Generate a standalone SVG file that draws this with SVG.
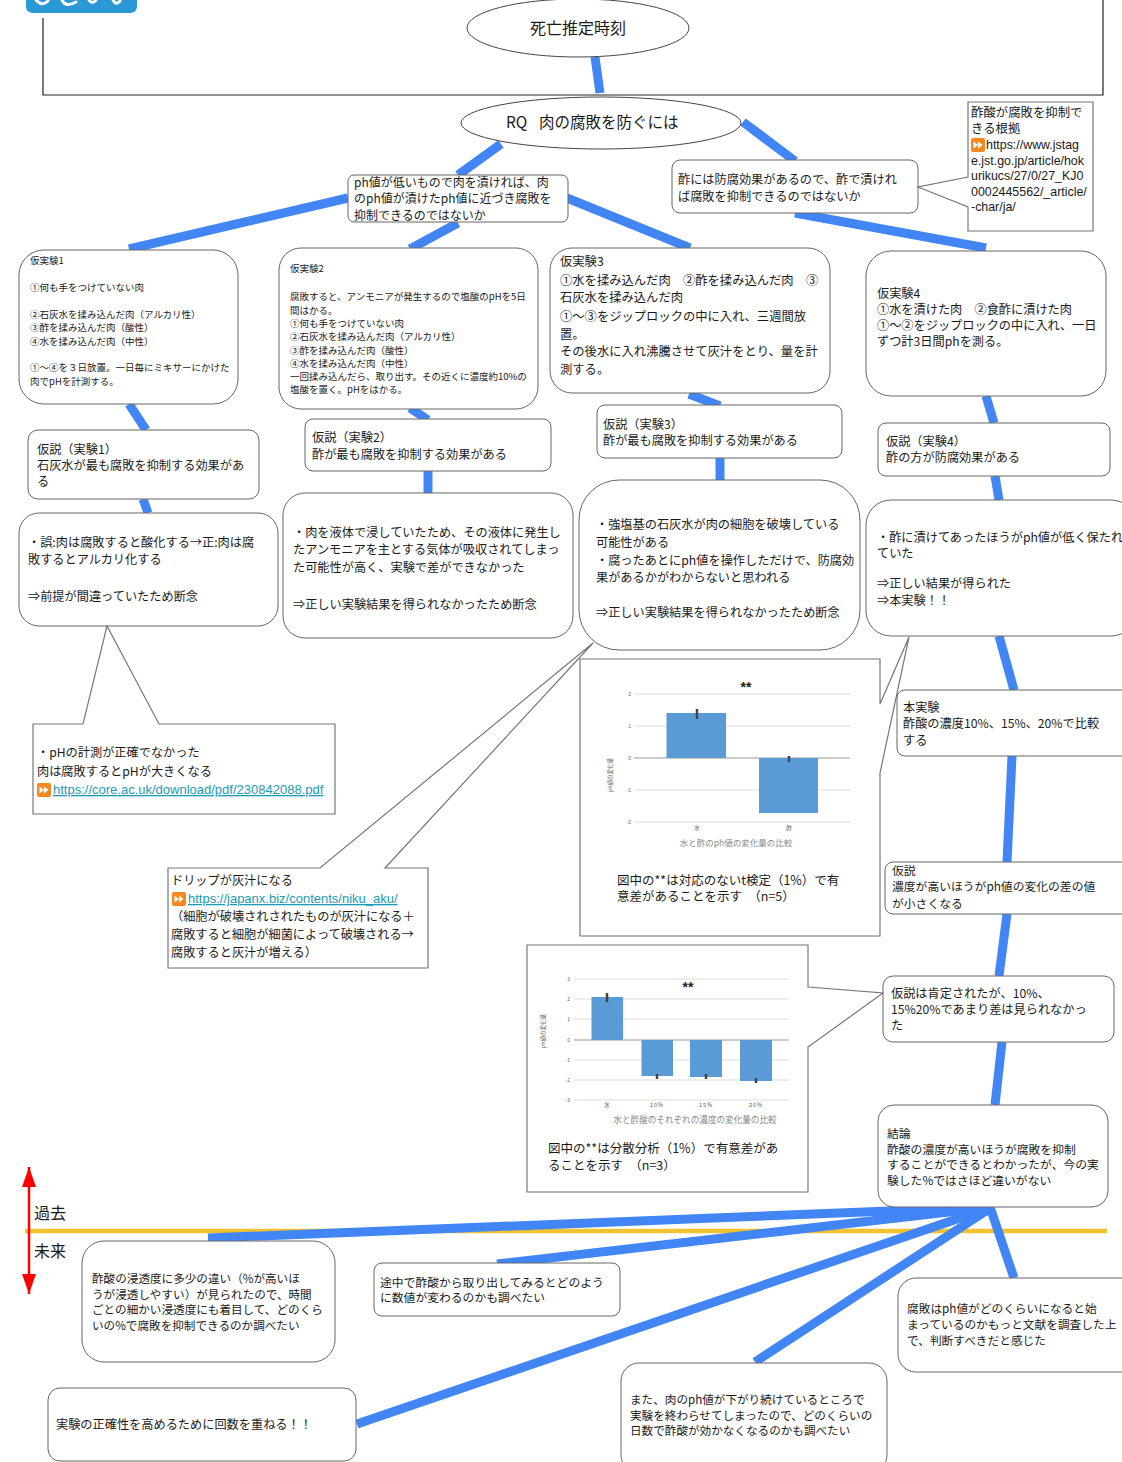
<svg xmlns="http://www.w3.org/2000/svg" width="1122" height="1462" viewBox="0 0 1122 1462">
<defs>
<style>
.j{font-family:"Noto Sans CJK JP","Noto Sans",sans-serif;fill:#1a1a1a;font-size:12.2px}
.sm{font-size:9.5px}
.box{fill:#fff;stroke:#666;stroke-width:1}
.call{fill:#fff;stroke:#777;stroke-width:1.2}
.c{stroke:#4285f4;stroke-width:9;fill:none}
.link{font-family:"Liberation Sans",Arial,sans-serif;font-size:13px;fill:#1b9bb4;text-decoration:underline}
.lat{font-family:"Liberation Sans",Arial,sans-serif;font-size:12.4px;fill:#1a1a1a}
.grid{stroke:#dcdcdc;stroke-width:1}
.axis{stroke:#9a9a9a;stroke-width:1}
.bar{fill:#5b9bd5}
.err{stroke:#444;stroke-width:2.5}
.tick{font-family:"Liberation Sans",Arial,sans-serif;font-size:5px;fill:#666}
.ctl{font-size:8.5px;fill:#8a8a8a}
.cat{font-size:5.5px;fill:#555}
.star{font-family:"Liberation Sans",Arial,sans-serif;font-size:14px;font-weight:bold;fill:#222}
</style>
<marker id="ra" viewBox="0 0 20 14" refX="20" refY="7" markerWidth="20" markerHeight="14" markerUnits="userSpaceOnUse" orient="auto-start-reverse">
<path d="M0,0 L20,7 L0,14 Z" fill="#ff0000"/>
</marker>
<symbol id="ff" viewBox="0 0 14 14"><rect width="14" height="14" rx="2" fill="#f5891f"/><path d="M2.5,3.5 L7,7 L2.5,10.5Z M7,3.5 L11.5,7 L7,10.5Z" fill="#fff"/></symbol>
</defs>
<rect width="1122" height="1462" fill="#fff"/>

<g id="corner-badge">
<path d="M26,-10 H137 V6 Q137,13 130,13 H33 Q26,13 26,6 Z" fill="#2b98d6"/>
<path d="M36,0 Q42,7 48,1 M62,0 Q66,8 76,2 M89,0 Q92,5 96,0 M113,0 Q116,6 120,1" stroke="#fff" stroke-width="3" fill="none" stroke-linecap="round"/>
</g>
<path id="frame" d="M43,18 V95 H1103 V0" fill="none" stroke="#222" stroke-width="1.2"/>

<g id="timeline">
<line x1="25" y1="1231" x2="1107" y2="1231" stroke="#f1c232" stroke-width="4.5"/>
<line x1="29" y1="1167" x2="29" y2="1294" stroke="#ff0000" stroke-width="2.5" marker-start="url(#ra)" marker-end="url(#ra)"/>
<text class="j" x="34" y="1219" style="font-size:16px">過去</text>
<text class="j" x="34" y="1257" style="font-size:16px">未来</text>
</g>

<g id="connectors">
<line class="c" x1="595" y1="57" x2="600" y2="93"/>
<line class="c" x1="501" y1="144" x2="458" y2="175"/>
<line class="c" x1="743" y1="122" x2="795" y2="161"/>
<line class="c" x1="348" y1="198" x2="129" y2="249"/>
<line class="c" x1="458" y1="223" x2="410" y2="249"/>
<line class="c" x1="567" y1="198" x2="690" y2="248"/>
<line class="c" x1="795" y1="213" x2="986" y2="248"/>
<line class="c" x1="129" y1="404" x2="146" y2="430"/>
<line class="c" x1="410" y1="408" x2="428" y2="420"/>
<line class="c" x1="689" y1="394" x2="720" y2="406"/>
<line class="c" x1="986" y1="396" x2="994" y2="423"/>
<line class="c" x1="143" y1="499" x2="148" y2="513"/>
<line class="c" x1="428" y1="471" x2="428" y2="493"/>
<line class="c" x1="720" y1="458" x2="720" y2="480"/>
<line class="c" x1="995" y1="476" x2="999" y2="500"/>
<line class="c" x1="999" y1="636" x2="1014" y2="690"/>
<line class="c" x1="1012" y1="756" x2="1007" y2="862"/>
<line class="c" x1="1007" y1="914" x2="999" y2="976"/>
<line class="c" x1="1002" y1="1042" x2="995" y2="1105"/>
<line class="c" x1="992" y1="1207" x2="208" y2="1238"/>
<line class="c" x1="992" y1="1207" x2="497" y2="1264"/>
<line class="c" x1="992" y1="1207" x2="357" y2="1424"/>
<line class="c" x1="992" y1="1207" x2="755" y2="1362"/>
<line class="c" x1="990" y1="1207" x2="1014" y2="1278"/>
</g>

<g id="n-death">
<ellipse cx="578" cy="28" rx="111" ry="29" fill="#fff" stroke="#444" stroke-width="1"/>
<text class="j" x="578" y="33.5" text-anchor="middle" style="font-size:16px">死亡推定時刻</text>
</g>
<g id="n-rq">
<ellipse cx="601" cy="123" rx="140" ry="26" fill="#fff" stroke="#444" stroke-width="1"/>
<text class="j" x="506" y="128" style="font-size:15.5px">RQ<tspan x="539">肉の腐敗を防ぐには</tspan></text>
</g>

<g id="n-hyp-ph">
<rect class="box" x="348" y="175" width="220" height="47" rx="6"/>
<text class="j" x="354" y="186.5" style="font-size:12px">ph値が低いもので肉を漬ければ、肉</text>
<text class="j" x="354" y="203" style="font-size:12px">のph値が漬けたph値に近づき腐敗を</text>
<text class="j" x="354" y="219.5" style="font-size:12px">抑制できるのではないか</text>
</g>
<g id="n-hyp-vinegar">
<rect class="box" x="672" y="160" width="246" height="53" rx="8"/>
<text class="j" x="678" y="184">酢には防腐効果があるので、酢で漬けれ</text>
<text class="j" x="678" y="200.5">ば腐敗を抑制できるのではないか</text>
</g>
<g id="n-ref-jstage">
<path class="call" d="M968,102 H1093 V231 H968 V207 L918,187 L968,177 Z"/>
<text class="j" x="971" y="117" style="font-size:12.4px">酢酸が腐敗を抑制で</text>
<text class="j" x="971" y="133" style="font-size:12.4px">きる根拠</text>
<use href="#ff" x="971" y="138" width="14" height="14"/>
<text class="lat" x="986" y="149">https://www.jstag</text>
<text class="lat" x="971" y="164.5">e.jst.go.jp/article/hok</text>
<text class="lat" x="971" y="180">urikucs/27/0/27_KJ0</text>
<text class="lat" x="971" y="195.5">0002445562/_article/</text>
<text class="lat" x="971" y="211">-char/ja/</text>
</g>

<g id="n-exp1">
<rect class="box" x="19" y="250" width="219" height="154" rx="25"/>
<text class="j sm" x="30" y="263.5">仮実験1</text>
<text class="j sm" x="30" y="290.5">①何も手をつけていない肉</text>
<text class="j sm" x="30" y="317.5">②石灰水を揉み込んだ肉（アルカリ性）</text>
<text class="j sm" x="30" y="331">③酢を揉み込んだ肉（酸性）</text>
<text class="j sm" x="30" y="344.5">④水を揉み込んだ肉（中性）</text>
<text class="j sm" x="30" y="371">①～④を３日放置。一日毎にミキサーにかけた</text>
<text class="j sm" x="30" y="384.5">肉でpHを計測する。</text>
</g>
<g id="n-exp2">
<rect class="box" x="279" y="248" width="259" height="161" rx="22"/>
<text class="j sm" x="290" y="271.5">仮実験2</text>
<text class="j sm" x="290" y="300.3">腐敗すると、アンモニアが発生するので塩酸のpHを5日</text>
<text class="j sm" x="290" y="313.6">間はかる。</text>
<text class="j sm" x="290" y="326.9">①何も手をつけていない肉</text>
<text class="j sm" x="290" y="340.2">②石灰水を揉み込んだ肉（アルカリ性）</text>
<text class="j sm" x="290" y="353.5">③酢を揉み込んだ肉（酸性）</text>
<text class="j sm" x="290" y="366.8">④水を揉み込んだ肉（中性）</text>
<text class="j sm" x="290" y="380.1">一回揉み込んだら、取り出す。その近くに濃度約10%の</text>
<text class="j sm" x="290" y="393.4">塩酸を置く。pHをはかる。</text>
</g>
<g id="n-exp3">
<rect class="box" x="550" y="248" width="280" height="145" rx="22"/>
<text class="j" x="560" y="265.5" style="font-size:12.3px">仮実験3</text>
<text class="j" x="560" y="285" style="font-size:12.3px">①水を揉み込んだ肉　②酢を揉み込んだ肉　③</text>
<text class="j" x="560" y="302" style="font-size:12.3px">石灰水を揉み込んだ肉</text>
<text class="j" x="560" y="321" style="font-size:12.3px">①～③をジップロックの中に入れ、三週間放</text>
<text class="j" x="560" y="339" style="font-size:12.3px">置。</text>
<text class="j" x="560" y="356" style="font-size:12.3px">その後水に入れ沸騰させて灰汁をとり、量を計</text>
<text class="j" x="560" y="374" style="font-size:12.3px">測する。</text>
</g>
<g id="n-exp4">
<rect class="box" x="866" y="251" width="240" height="145" rx="25"/>
<text class="j" x="877" y="298">仮実験4</text>
<text class="j" x="877" y="314">①水を漬けた肉　②食酢に漬けた肉</text>
<text class="j" x="877" y="330">①～②をジップロックの中に入れ、一日</text>
<text class="j" x="877" y="346">ずつ計3日間phを測る。</text>
</g>

<g id="n-hyp1">
<rect class="box" x="28" y="430" width="231" height="69" rx="10"/>
<text class="j" x="37" y="454">仮説（実験1）</text>
<text class="j" x="37" y="470">石灰水が最も腐敗を抑制する効果があ</text>
<text class="j" x="37" y="486">る</text>
</g>
<g id="n-hyp2">
<rect class="box" x="305" y="419" width="246" height="52" rx="8"/>
<text class="j" x="312" y="442">仮説（実験2）</text>
<text class="j" x="312" y="458.5">酢が最も腐敗を抑制する効果がある</text>
</g>
<g id="n-hyp3">
<rect class="box" x="597" y="405" width="245" height="53" rx="8"/>
<text class="j" x="603" y="428.5">仮説（実験3）</text>
<text class="j" x="603" y="445">酢が最も腐敗を抑制する効果がある</text>
</g>
<g id="n-hyp4">
<rect class="box" x="878" y="423" width="232" height="53" rx="8"/>
<text class="j" x="886" y="445.5">仮説（実験4）</text>
<text class="j" x="886" y="462">酢の方が防腐効果がある</text>
</g>

<g id="n-res1">
<rect class="box" x="19" y="513" width="259" height="113" rx="20"/>
<text class="j" x="28" y="547">・誤:肉は腐敗すると酸化する→正:肉は腐</text>
<text class="j" x="28" y="564">敗するとアルカリ化する</text>
<text class="j" x="28" y="600.5">⇒前提が間違っていたため断念</text>
</g>
<g id="n-res2">
<rect class="box" x="283" y="493" width="290" height="145" rx="22"/>
<text class="j" x="293" y="537">・肉を液体で浸していたため、その液体に発生し</text>
<text class="j" x="293" y="554">たアンモニアを主とする気体が吸収されてしまっ</text>
<text class="j" x="293" y="571.5">た可能性が高く、実験で差ができなかった</text>
<text class="j" x="293" y="608.5">⇒正しい実験結果を得られなかったため断念</text>
</g>
<g id="n-res3">
<rect class="box" x="579" y="480" width="281" height="170" rx="40"/>
<text class="j" x="596" y="529">・強塩基の石灰水が肉の細胞を破壊している</text>
<text class="j" x="596" y="547">可能性がある</text>
<text class="j" x="596" y="565">・腐ったあとにph値を操作しただけで、防腐効</text>
<text class="j" x="596" y="582">果があるかがわからないと思われる</text>
<text class="j" x="596" y="617">⇒正しい実験結果を得られなかったため断念</text>
</g>
<g id="n-res4">
<rect class="box" x="866" y="500" width="270" height="136" rx="25"/>
<text class="j" x="877" y="541.5">・酢に漬けてあったほうがph値が低く保たれ</text>
<text class="j" x="877" y="558">ていた</text>
<text class="j" x="877" y="588">⇒正しい結果が得られた</text>
<text class="j" x="877" y="604.5">⇒本実験！！</text>
</g>

<g id="n-note-ph">
<path class="call" d="M33,724 H83 L107,626 L159,724 H335 V814 H33 Z"/>
<text class="j" x="37" y="757">・pHの計測が正確でなかった</text>
<text class="j" x="37" y="775.5">肉は腐敗するとpHが大きくなる</text>
<use href="#ff" x="37" y="783" width="14" height="14"/>
<text class="link" x="53" y="794">https://core.ac.uk/download/pdf/230842088.pdf</text>
</g>
<g id="n-note-drip">
<path class="call" d="M168,868 H320 L593,643 L385,868 H428 V968 H168 Z"/>
<text class="j" x="171" y="884.5">ドリップが灰汁になる</text>
<use href="#ff" x="172" y="892" width="14" height="14"/>
<text class="link" x="188" y="903">https://japanx.biz/contents/niku_aku/</text>
<text class="j" x="171" y="921">（細胞が破壊されされたものが灰汁になる＋</text>
<text class="j" x="171" y="939">腐敗すると細胞が細菌によって破壊される→</text>
<text class="j" x="171" y="957">腐敗すると灰汁が増える）</text>
</g>

<g id="n-chart1">
<path class="call" d="M580,659 H880 V704 L909,637 L880,773 V936 H580 Z"/>
<line class="grid" x1="634" y1="694" x2="850" y2="694"/>
<line class="grid" x1="634" y1="726" x2="850" y2="726"/>
<line class="grid" x1="634" y1="790" x2="850" y2="790"/>
<line class="grid" x1="634" y1="822" x2="850" y2="822"/>
<line class="axis" x1="634" y1="758" x2="850" y2="758"/>
<text class="tick" x="631" y="696" text-anchor="end">2</text>
<text class="tick" x="631" y="728" text-anchor="end">1</text>
<text class="tick" x="631" y="760" text-anchor="end">0</text>
<text class="tick" x="631" y="792" text-anchor="end">-1</text>
<text class="tick" x="631" y="824" text-anchor="end">-2</text>
<rect class="bar" x="666.5" y="713" width="59.5" height="45"/>
<rect class="bar" x="759" y="758" width="59" height="55"/>
<line class="err" x1="697" y1="709" x2="697" y2="719"/>
<line class="err" x1="789" y1="756" x2="789" y2="762"/>
<text class="star" x="746" y="692" text-anchor="middle">**</text>
<text class="j cat" x="697" y="830" text-anchor="middle">水</text>
<text class="j cat" x="789" y="830" text-anchor="middle">酢</text>
<text class="j ctl" x="736" y="846" text-anchor="middle">水と酢のph値の変化量の比較</text>
<text class="j" x="612" y="775" text-anchor="middle" transform="rotate(-90 612 775)" style="font-size:5.5px;fill:#666">ph値の変化量</text>
<text class="j" x="617" y="884.5" style="font-size:12.5px">図中の**は対応のないt検定（1%）で有</text>
<text class="j" x="617" y="901" style="font-size:12.5px">意差があることを示す　（n=5）</text>
</g>

<g id="n-chart2">
<path class="call" d="M527,945 H808 V987 L883,993 L808,1047 V1192 H527 Z"/>
<line class="grid" x1="574" y1="979" x2="789" y2="979"/>
<line class="grid" x1="574" y1="999" x2="789" y2="999"/>
<line class="grid" x1="574" y1="1019" x2="789" y2="1019"/>
<line class="grid" x1="574" y1="1060" x2="789" y2="1060"/>
<line class="grid" x1="574" y1="1080" x2="789" y2="1080"/>
<line class="grid" x1="574" y1="1100" x2="789" y2="1100"/>
<line class="axis" x1="574" y1="1040" x2="789" y2="1040"/>
<text class="tick" x="570" y="981" text-anchor="end">3</text>
<text class="tick" x="570" y="1001" text-anchor="end">2</text>
<text class="tick" x="570" y="1021" text-anchor="end">1</text>
<text class="tick" x="570" y="1042" text-anchor="end">0</text>
<text class="tick" x="570" y="1062" text-anchor="end">-1</text>
<text class="tick" x="570" y="1082" text-anchor="end">-2</text>
<text class="tick" x="570" y="1102" text-anchor="end">-3</text>
<rect class="bar" x="591.5" y="997" width="31.5" height="43"/>
<rect class="bar" x="641.5" y="1040" width="31.5" height="36"/>
<rect class="bar" x="690" y="1040" width="32" height="37"/>
<rect class="bar" x="740" y="1040" width="32" height="41"/>
<line class="err" x1="607" y1="993" x2="607" y2="1002"/>
<line class="err" x1="657" y1="1074" x2="657" y2="1079"/>
<line class="err" x1="706" y1="1074" x2="706" y2="1079"/>
<line class="err" x1="756" y1="1078" x2="756" y2="1083"/>
<text class="star" x="688" y="992" text-anchor="middle">**</text>
<text class="j cat" x="607" y="1107" text-anchor="middle">水</text>
<text class="j cat" x="657" y="1107" text-anchor="middle" letter-spacing="1">10%</text>
<text class="j cat" x="706" y="1107" text-anchor="middle" letter-spacing="1">15%</text>
<text class="j cat" x="756" y="1107" text-anchor="middle" letter-spacing="1">20%</text>
<text class="j ctl" x="695" y="1123" text-anchor="middle" style="font-size:8.6px">水と酢酸のそれぞれの濃度の変化量の比較</text>
<text class="j" x="545" y="1031" text-anchor="middle" transform="rotate(-90 545 1031)" style="font-size:5.5px;fill:#666">ph値の変化量</text>
<text class="j" x="548" y="1152.5" style="font-size:12.5px">図中の**は分散分析（1%）で有意差があ</text>
<text class="j" x="548" y="1170" style="font-size:12.5px">ることを示す　（n=3）</text>
</g>

<g id="n-main-exp">
<rect class="box" x="897" y="690" width="240" height="66" rx="8"/>
<text class="j" x="903" y="711.5">本実験</text>
<text class="j" x="903" y="728">酢酸の濃度10%、15%、20%で比較</text>
<text class="j" x="903" y="744.5">する</text>
</g>
<g id="n-main-hyp">
<rect class="box" x="885" y="862" width="250" height="52" rx="8"/>
<text class="j" x="892" y="874.5" style="font-size:11.8px">仮説</text>
<text class="j" x="892" y="891" style="font-size:11.8px">濃度が高いほうがph値の変化の差の値</text>
<text class="j" x="892" y="907.5" style="font-size:11.8px">が小さくなる</text>
</g>
<g id="n-main-result">
<rect class="box" x="883" y="976" width="231" height="66" rx="10"/>
<text class="j" x="891" y="997.5">仮説は肯定されたが、10%、</text>
<text class="j" x="891" y="1014">15%20%であまり差は見られなかっ</text>
<text class="j" x="891" y="1030">た</text>
</g>
<g id="n-conclusion">
<rect class="box" x="878" y="1105" width="230" height="102" rx="16"/>
<text class="j" x="887" y="1137.5" style="font-size:11.8px">結論</text>
<text class="j" x="887" y="1153.5" style="font-size:11.8px">酢酸の濃度が高いほうが腐敗を抑制</text>
<text class="j" x="887" y="1169" style="font-size:11.8px">することができるとわかったが、今の実</text>
<text class="j" x="887" y="1184.5" style="font-size:11.8px">験した%ではさほど違いがない</text>
</g>

<g id="n-future1">
<rect class="box" x="82" y="1241" width="253" height="121" rx="22"/>
<text class="j" x="92" y="1282.5" style="font-size:11.6px">酢酸の浸透度に多少の違い（%が高いほ</text>
<text class="j" x="92" y="1298.5" style="font-size:11.6px">うが浸透しやすい）が見られたので、時間</text>
<text class="j" x="92" y="1314" style="font-size:11.6px">ごとの細かい浸透度にも着目して、どのくら</text>
<text class="j" x="92" y="1329.5" style="font-size:11.6px">いの%で腐敗を抑制できるのか調べたい</text>
</g>
<g id="n-future2">
<rect class="box" x="374" y="1263" width="246" height="53" rx="8"/>
<text class="j" x="380" y="1287" style="font-size:11.8px">途中で酢酸から取り出してみるとどのよう</text>
<text class="j" x="380" y="1302" style="font-size:11.8px">に数値が変わるのかも調べたい</text>
</g>
<g id="n-future3">
<rect class="box" x="48" y="1388" width="308" height="73" rx="12"/>
<text class="j" x="56" y="1429">実験の正確性を高めるために回数を重ねる！！</text>
</g>
<g id="n-future4">
<rect class="box" x="621" y="1363" width="266" height="110" rx="18"/>
<text class="j" x="630" y="1404" style="font-size:11.6px">また、肉のph値が下がり続けているところで</text>
<text class="j" x="630" y="1419.5" style="font-size:11.6px">実験を終わらせてしまったので、どのくらいの</text>
<text class="j" x="630" y="1435" style="font-size:11.6px">日数で酢酸が効かなくなるのかも調べたい</text>
</g>
<g id="n-future5">
<rect class="box" x="898" y="1278" width="240" height="94" rx="18"/>
<text class="j" x="907" y="1313" style="font-size:11.7px">腐敗はph値がどのくらいになると始</text>
<text class="j" x="907" y="1329" style="font-size:11.7px">まっているのかもっと文献を調査した上</text>
<text class="j" x="907" y="1345" style="font-size:11.7px">で、判断すべきだと感じた</text>
</g>
</svg>
